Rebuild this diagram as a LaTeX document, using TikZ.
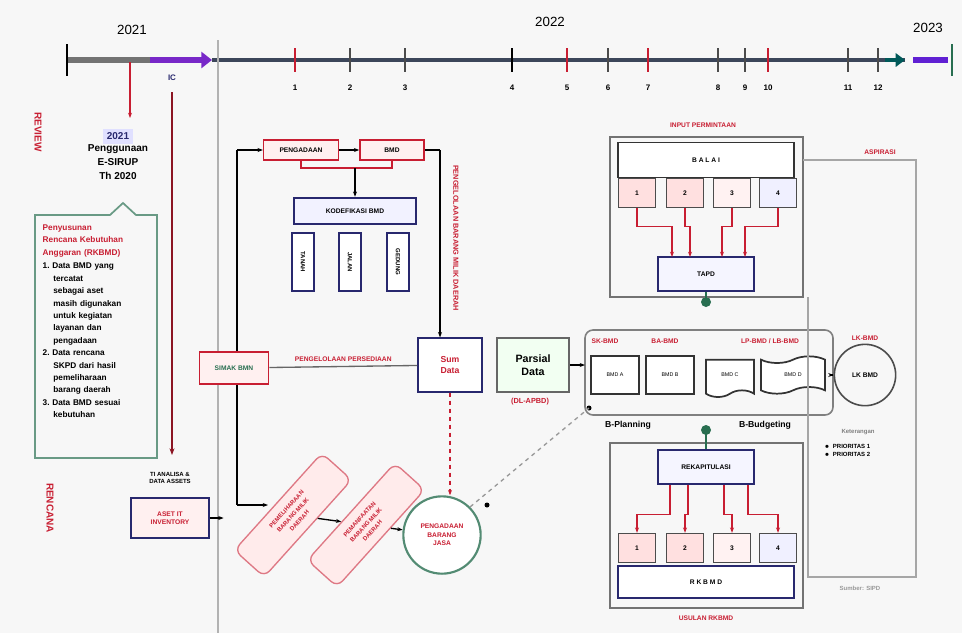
\documentclass[tikz,border=0pt]{standalone}
\usepackage{fontspec}
\setmainfont{Liberation Sans}
\usetikzlibrary{arrows.meta,shapes.geometric,shapes.symbols,calc}
\definecolor{dred}{RGB}{200,30,50}
\definecolor{navy}{RGB}{40,40,110}
\definecolor{dgreen}{RGB}{40,110,80}
\definecolor{tl}{RGB}{60,70,90}
\definecolor{purp}{RGB}{120,40,200}
\tikzset{
  every node/.style={font=\fontsize{5}{6}\selectfont\bfseries},
  redbox/.style={draw=dred,fill=red!6,line width=1.2pt,align=center,text=black},
  navybox/.style={draw=navy,fill=white,line width=1.4pt,align=center},
  graybox/.style={draw=black!55,line width=1.2pt},
  cell/.style={draw=black!70,line width=0.8pt,fill=red!10,minimum width=28pt,minimum height=22pt},
  tick/.style={line width=1.3pt},
  tlab/.style={font=\fontsize{6}{7}\selectfont\bfseries},
  conn/.style={line width=1pt,-{Stealth[length=4pt]}},
  rconn/.style={line width=1pt,draw=dred,-{Stealth[length=4pt]}},
  rtext/.style={text=dred},
  doc/.style={draw=black!80,line width=1.3pt,fill=white,minimum width=36pt,minimum height=28pt,font=\fontsize{4}{5}\selectfont},
  rotbox/.style={draw=dred!60,fill=red!8,line width=1pt,rounded corners=6pt,rotate=48,minimum width=98pt,minimum height=30pt,align=center,text=dred,font=\fontsize{4.5}{6.5}\selectfont\bfseries},
}
\begin{document}
\begin{tikzpicture}[x=0.75pt,y=-0.75pt]
\useasboundingbox[fill=black!3] (0,0) rectangle (962,633);
% ---------- timeline ----------
\coordinate (t0) at (67,60);
\coordinate (t1) at (150,60);
\coordinate (t2) at (212,60);
\coordinate (t3) at (905,60);
\coordinate (t4) at (948,60);
\draw[black!55,line width=4pt] (t0) -- (t1);
\draw[purp,line width=5pt,-{Triangle[length=8pt,width=12pt]}] (t1) -- (t2);
\draw[tl,line width=3pt] (t2) -- (t3);
\draw[teal!70!black,line width=3pt,-{Triangle[length=7pt,width=10pt]}] ($(t3)+(-20,0)$) -- (t3);
\draw[purp!80!blue,line width=4pt] ($(t3)+(8,0)$) -- (t4);
\draw[tick,black] (67,44) -- (67,76);
\draw[tick,dgreen] (952,44) -- (952,76);
\node[tlab,font=\fontsize{10}{12}\selectfont] (y21) at (132,30) {2021};
\node[tlab,font=\fontsize{10}{12}\selectfont] (y22) at (550,22) {2022};
\node[tlab,font=\fontsize{10}{12}\selectfont] (y23) at (928,28) {2023};
\foreach \x/\l/\c in {295/1/dred,350/2/black!70,405/3/black!70,512/4/black,567/5/dred,608/6/black!70,648/7/dred,718/8/black!70,745/9/black!70,768/10/dred,848/11/black!70,878/12/black!70}{
  \draw[tick,\c] (\x,48) -- (\x,72);
  \node[tlab] at (\x,88) {\l};
}
\node[tlab,text=navy] (ic) at (172,78) {IC};
% ---------- left side ----------
\node[rtext,rotate=-90,font=\fontsize{7.5}{8}\selectfont\bfseries] (rev) at (38,132) {REVIEW};
\node[rtext,rotate=-90,font=\fontsize{7.5}{8}\selectfont\bfseries] (plan) at (50,508) {RENCANA};
\node[align=center,font=\fontsize{7.5}{10.5}\selectfont\bfseries] (pg) at (118,154) {\colorbox{blue!12}{\textcolor{navy}{2021}}\\[-2pt]Penggunaan\\E-SIRUP\\Th 2020};
\coordinate (rv) at (130,62);
\draw[rconn] (rv) -- (130,118);
\draw[dred!70!black,line width=1.6pt,-{Stealth[length=5pt]}] (172,92) -- (172,455);
% callout box
\draw[dgreen!70,line width=1.3pt] (35,215) -- (110,215) -- (123,203) -- (136,215) -- (157,215) -- (157,458) -- (35,458) -- cycle;
\node[anchor=north west,align=left,text width=112pt,font=\fontsize{6.2}{9.3}\selectfont\bfseries] (cb) at (38,220)
 {\textcolor{dred}{Penyusunan}\\\textcolor{dred}{Rencana Kebutuhan}\\\textcolor{dred}{Anggaran (RKBMD)}\\[1pt]
  1.\ Data BMD yang\\\hspace*{8pt}tercatat\\\hspace*{8pt}sebagai aset\\\hspace*{8pt}masih digunakan\\\hspace*{8pt}untuk kegiatan\\\hspace*{8pt}layanan dan\\\hspace*{8pt}pengadaan\\
  2.\ Data rencana\\\hspace*{8pt}SKPD dari hasil\\\hspace*{8pt}pemeliharaan\\\hspace*{8pt}barang daerah\\
  3.\ Data BMD sesuai\\\hspace*{8pt}kebutuhan};
\node[align=center,font=\fontsize{4.5}{5.5}\selectfont\bfseries] (anl) at (170,478) {TI ANALISA \&\\DATA ASSETS};
\node[navybox,fill=red!6,minimum width=58pt,minimum height=30pt,text=dred,font=\fontsize{5}{6}\selectfont\bfseries] (aset) at (170,518) {ASET IT\\INVENTORY};
\draw[black!30,line width=1.5pt] (218,40) -- (218,633);
% ---------- middle top ----------
\coordinate (lin) at (237,150);
\draw[line width=1pt] (lin) -- (237,505);
\node[redbox,minimum width=56pt,minimum height=15pt] (pga) at (301,150) {PENGADAAN};
\node[redbox,minimum width=48pt,minimum height=15pt] (bmd) at (392,150) {BMD};
\draw[conn] (lin) -- (pga);
\draw[conn] (pga) -- (bmd);
\coordinate (rturn) at (440,150);
\draw[line width=1.2pt] (bmd) -- (rturn);
\node[navybox,minimum width=92pt,minimum height=20pt,fill=blue!5] (kod) at (355,211) {KODEFIKASI BMD};
\coordinate (jn) at (355,168);
\draw[dred,line width=1pt] (pga.south) |- (jn) -| (bmd.south);
\draw[conn] (jn) -- (kod);
\foreach \x/\n/\t in {303/va/TANAH,350/vb/JALAN,398/vc/GEDUNG}{
  \node[navybox,minimum width=44pt,minimum height=17pt,rotate=-90,font=\fontsize{4.5}{5}\selectfont\bfseries] (\n) at (\x,262) {\t};
}
\node[rtext,rotate=-90,font=\fontsize{5.5}{6}\selectfont\bfseries] (vtxt) at (456,238) {PENGELOLAAN BARANG MILIK DAERAH};
% ---------- middle row ----------
\node[redbox,minimum width=52pt,minimum height=24pt,text=dgreen] (simak) at (234,368) {SIMAK BMN};
\node[navybox,minimum width=48pt,minimum height=40pt,text=dred,font=\fontsize{6.5}{8}\selectfont\bfseries] (sum) at (450,365) {Sum\\Data};
\node[draw=black!60,line width=1.3pt,fill=green!5,minimum width=54pt,minimum height=40pt,align=center,font=\fontsize{8}{10}\selectfont\bfseries] (pars) at (533,365) {Parsial\\Data};
\node[rtext,font=\fontsize{5.5}{6}\selectfont\bfseries] (dl) at (530,402) {(DL-APBD)};
\draw[black!60,line width=1pt] (simak) -- node[above,rtext,font=\fontsize{5}{6}\selectfont\bfseries] {PENGELOLAAN PERSEDIAAN} (sum);
\draw[conn] (rturn) -- (sum.north -| rturn);
% ---------- right middle group ----------
\draw[black!50,line width=1.2pt,rounded corners=6pt] (585,330) rectangle (833,415);
\node[doc] (d1) at (615,375) {BMD A};
\node[doc] (d2) at (670,375) {BMD B};
\node[doc,tape,tape bend top=none] (d3) at (730,375) {BMD C};
\node[doc,tape,minimum width=48pt] (d4) at (793,375) {BMD D};
\node[rtext] (l1) at (605,341) {SK-BMD};
\node[rtext] (l2) at (665,341) {BA-BMD};
\node[rtext] (l3) at (770,341) {LP-BMD / LB-BMD};
\node[draw=black!70,line width=1.2pt,circle,minimum size=46pt] (lk) at (865,375) {LK BMD};
\node[rtext] (lkl) at (865,338) {LK-BMD};
\draw[conn] (833,375) -- (lk);
\draw[conn] (pars) -- (585,365);
\node[font=\fontsize{6.5}{7}\selectfont\bfseries] (bp) at (628,425) {B-Planning};
\node[font=\fontsize{6.5}{7}\selectfont\bfseries] (bb) at (765,425) {B-Budgeting};
\fill[dgreen] (706,302) circle (5);
\fill[dgreen] (706,430) circle (5);
\fill[black] (589,408) circle (2.5);
% ---------- top right group ----------
\node[rtext] (inp) at (703,125) {INPUT PERMINTAAN};
\draw[graybox] (610,137) rectangle (803,297);
\node[draw=black!80,line width=1.2pt,fill=white,minimum width=132pt,minimum height=26pt] (balai) at (706,160) {B A L A I};
\foreach \i/\x/\f in {1/637/red!12,2/685/red!12,3/732/red!5,4/778/blue!6}{
  \node[cell,fill=\f] (c\i) at (\x,193) {\i};
}
\node[navybox,minimum width=72pt,minimum height=26pt,fill=blue!4] (tapd) at (706,274) {TAPD};
\foreach \i/\x in {1/672,2/690,3/722,4/745}{
  \draw[rconn] (c\i.south) |- ($(c\i.south)+(0,18)$) -| (\x,257);
}
\draw[dgreen,line width=1.5pt] (tapd) -- (706,302);
% right panel
\node[rtext] (asp) at (880,152) {ASPIRASI};
\draw[black!35,line width=2pt] (803,160) -- (916,160) -- (916,577) -- (808,577) -- (808,297);
\node[text=black!40,font=\fontsize{4.5}{5}\selectfont\bfseries] (src) at (860,588) {Sumber: SIPD};
% ---------- bottom right group ----------
\draw[graybox] (610,443) rectangle (803,608);
\node[navybox,minimum width=72pt,minimum height=26pt,fill=blue!4] (rek) at (706,467) {REKAPITULASI};
\draw[dgreen,line width=1.5pt] (706,430) -- (rek);
\foreach \i/\x/\f in {1/637/red!12,2/685/red!12,3/732/red!5,4/778/blue!6}{
  \node[cell,fill=\f] (e\i) at (\x,548) {\i};
}
\foreach \i/\x in {1/670,2/688,3/724,4/748}{
  \draw[rconn] (\x,485) |- ($(e\i.north)+(0,-18)$) -- (e\i.north);
}
\node[draw=navy,line width=1.2pt,fill=white,minimum width=132pt,minimum height=24pt] (rkbmd) at (706,582) {R K B M D};
\node[rtext] (rkl) at (706,618) {USULAN RKBMD};
% legend
\node[font=\fontsize{4.5}{5}\selectfont\bfseries,text=black!50] (lgt) at (858,432) {Keterangan};
\node[anchor=west,align=left,font=\fontsize{4.5}{6}\selectfont\bfseries] (lg) at (820,450) {$\bullet$\ \ PRIORITAS 1\\$\bullet$\ \ PRIORITAS 2};
% ---------- bottom middle ----------
\node[rotbox] (r1) at (293,515) {PEMELIHARAAN\\BARANG MILIK\\DAERAH};
\node[rotbox] (r2) at (366,525) {PEMANFAATAN\\BARANG MILIK\\DAERAH};
\node[circle,draw=dgreen!80,line width=1.6pt,fill=white,minimum size=58pt,align=center,text=dred,font=\fontsize{5}{6.5}\selectfont\bfseries] (pbj) at (442,535) {PENGADAAN\\BARANG\\JASA};
\draw[conn] (237,505) -- (268,505);
\draw[conn] (aset.east) -- ++(14,0);
\draw[conn] (r1) -- (r2);
\draw[conn] (r2) -- (pbj);
\draw[dred,line width=1.2pt,dashed,-{Stealth[length=4pt]}] (sum.south) -- (pbj.north -| sum.south);
\draw[black!40,line width=1pt,dashed] (pbj.north east) -- (589,408);
\fill[black] (487,505) circle (2.5);
\end{tikzpicture}
\end{document}
